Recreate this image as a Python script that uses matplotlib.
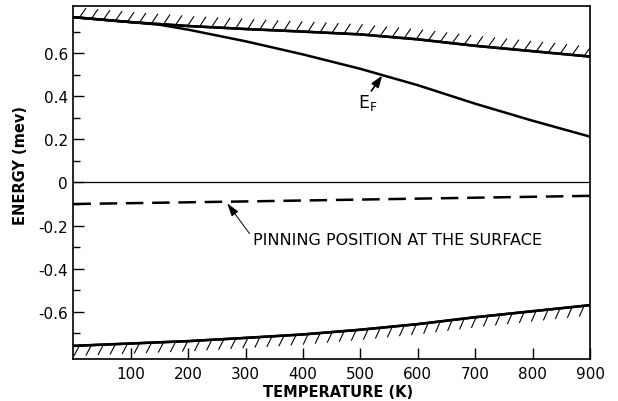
import matplotlib
matplotlib.use("Agg")
import matplotlib.pyplot as plt
import matplotlib.patheffects as pe
import numpy as np

plt.rcParams['font.family'] = ['DejaVu Sans']
plt.rcParams['mathtext.fontset'] = 'dejavusans'

# Data
temp = [0, 100, 200, 300, 400, 500, 600, 700, 800, 900]
cb_edge = [0.768, 0.745, 0.727, 0.713, 0.701, 0.688, 0.665, 0.635, 0.610, 0.585]
fermi_T = [0, 100, 150, 200, 300, 400, 500, 600, 700, 800, 900]
fermi = [0.768, 0.745, 0.733, 0.710, 0.656, 0.595, 0.528, 0.452, 0.366, 0.287, 0.213]
vb_edge = [-0.759, -0.748, -0.737, -0.722, -0.706, -0.684, -0.658, -0.626, -0.598, -0.570]
pin_T = [0, 300, 600, 900]
pinning = [-0.100, -0.088, -0.075, -0.062]

xticks = [100, 200, 300, 400, 500, 600, 700, 800, 900]
yticks = [-0.6, -0.4, -0.2, 0, 0.2, 0.4, 0.6]
yticklabels = ['-0.6', '-0.4', '-0.2', '0', '0.2', '0.4', '0.6']
yminor = [-0.7, -0.5, -0.3, -0.1, 0.1, 0.3, 0.5, 0.7]

fig = plt.figure(figsize=(6.18, 4.02), dpi=100)
ax = fig.add_axes([0.1188, 0.1045, 0.8359, 0.8781])

# zero line
ax.axhline(0, color='black', lw=0.9)

# band edges with boundary hatching
ax.plot(temp, cb_edge, color='black', lw=1.8,
        path_effects=[pe.withTickedStroke(spacing=8.5, angle=60, length=0.95, linewidth=0.8),
                      pe.Normal()])
ax.plot(temp, vb_edge, color='black', lw=1.8,
        path_effects=[pe.withTickedStroke(spacing=8.5, angle=-120, length=0.95, linewidth=0.8),
                      pe.Normal()])
# Fermi level
ax.plot(fermi_T, fermi, color='black', lw=1.8)
# pinning position
ax.plot(pin_T, pinning, color='black', lw=1.8, dashes=(7, 3.5))

# annotations
ax.annotate('', xy=(538, 0.497), xytext=(519, 0.425),
            arrowprops=dict(arrowstyle='-|>,head_length=0.7,head_width=0.25',
                            lw=1.2, color='black', shrinkA=0, shrinkB=0))
ax.text(513, 0.372, r'E$_\mathrm{F}$', fontsize=12.5, ha='center', va='center')

ax.annotate('', xy=(268, -0.097), xytext=(307, -0.238),
            arrowprops=dict(arrowstyle='-|>,head_length=0.8,head_width=0.25',
                            lw=0.7, color='black', shrinkA=0, shrinkB=0))
ax.text(312, -0.265, 'PINNING POSITION AT THE SURFACE', fontsize=11.5,
        ha='left', va='center')

ax.set_xlim(0, 900)
ax.set_ylim(-0.82, 0.82)
ax.set_xticks(xticks)
ax.set_xticklabels([str(t) for t in xticks])
ax.set_yticks(yticks)
ax.set_yticklabels(yticklabels)
ax.set_yticks(yminor, minor=True)
ax.tick_params(axis='both', which='major', direction='in', length=8, width=1,
               labelsize=11)
ax.tick_params(axis='y', which='minor', direction='in', length=5, width=1)
ax.tick_params(axis='y', pad=4)
ax.tick_params(axis='x', pad=5)
for s in ax.spines.values():
    s.set_linewidth(1.2)

ax.set_xlabel('TEMPERATURE (K)', fontsize=10.5, fontweight='bold')
ax.xaxis.set_label_coords(0.512, -0.07)
ax.set_ylabel('ENERGY (mev)', fontsize=10.5, fontweight='bold')
ax.yaxis.set_label_coords(-0.088, 0.55)

fig.savefig('out.png', dpi=100)
